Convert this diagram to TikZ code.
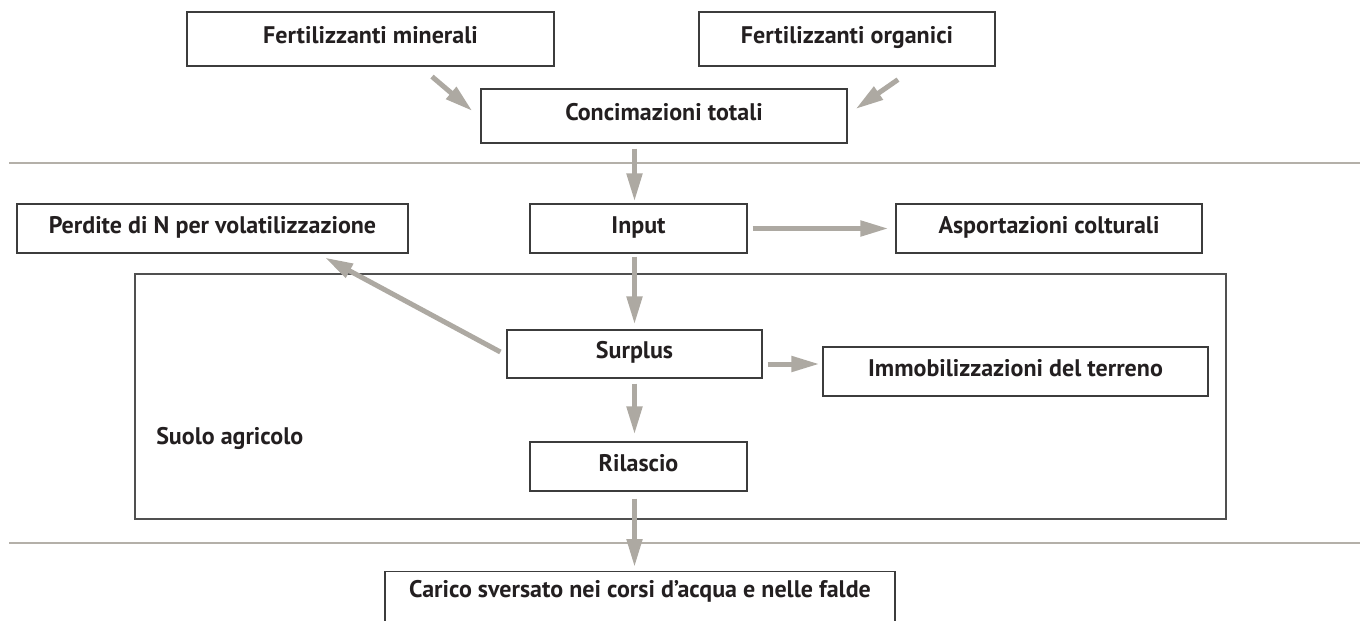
\documentclass[tikz,border=0pt]{standalone}
\usepackage{fontspec}
\setmainfont{PT Sans}
\usepackage{xcolor}
\usetikzlibrary{arrows.meta}

\definecolor{arrowgrey}{HTML}{ADA9A2}
\definecolor{linegrey}{HTML}{B4B0A9}
\definecolor{boxline}{HTML}{3C3C3C}
\definecolor{textblack}{HTML}{231F20}

\def\px{0.75pt}

\begin{document}
\begin{tikzpicture}[
    x=0.75pt, y=-0.75pt,
    block/.style={rectangle, draw=boxline, line width=0.9pt, minimum height=49*\px,
        inner sep=0pt, align=center, text=textblack,
        font=\bfseries\fontsize{18}{21}\selectfont, text height=0.7em, text depth=0pt},
    tallblock/.style={block, minimum height=54*\px},
    flux/.style={draw=arrowgrey, line width=3.75pt, -{Triangle[length=21pt, width=11.25pt]}},
    divider/.style={draw=linegrey, line width=1.9pt},
    soil/.style={rectangle, draw=boxline!90, line width=0.9pt, inner sep=0pt}
]
\clip (0,0) rectangle (1360,621);

% Soil container
\node[soil, minimum width=1091*\px, minimum height=245*\px] (suolo) at (680.5,396.5) {};
\node[anchor=west, inner sep=0pt, text=textblack, font=\bfseries\fontsize{18}{21}\selectfont] (suololab) at (156,438) {Suolo agricolo};

% Dividers
\draw[divider] (9,163) -- (1360,163);
\draw[divider] (9,543) -- (1360,543);

% Fertilizers
\node[tallblock, minimum width=367*\px] (fmin) at (370.5,39) {Fertilizzanti minerali};
\node[tallblock, minimum width=296*\px] (forg) at (847,39) {Fertilizzanti organici};
\node[tallblock, minimum width=366*\px] (conc) at (664,116) {Concimazioni totali};

% Balance
\node[block, minimum width=217*\px] (input) at (638.5,228.5) {Input};
\node[block, minimum width=306*\px] (asport) at (1049,228.5) {Asportazioni colturali};
\node[block, minimum width=391*\px] (perdite) at (212.5,228.5) {Perdite di N per volatilizzazione};
\node[block, minimum width=255*\px, minimum height=48*\px] (surplus) at (634.5,354) {Surplus};
\node[block, minimum width=385*\px] (immob) at (1015.5,371.5) {Immobilizzazioni del terreno};
\node[block, minimum width=217*\px] (rilascio) at (638.5,466.5) {Rilascio};
\node[block, minimum width=510*\px, minimum height=52*\px, anchor=north, text depth=7.5pt] (carico) at (640,571) {Carico sversato nei corsi d’acqua e nelle falde};

% Arrows
\draw[flux] ([shift={(61.5,10)}]fmin.south) -- ([shift={(-8,-5)}]conc.west);
\draw[flux] ([shift={(51,13)}]forg.south) -- ([shift={(8,-7)}]conc.east);
\draw[flux, shorten <=3.75pt, shorten >=1.5pt] (conc.south -| surplus) -- (input.north -| surplus);
\draw[flux, shorten <=2.25pt, shorten >=3.75pt] (input.south -| surplus) -- (surplus.north);
\draw[flux, shorten <=3.75pt, shorten >=5.25pt] (input.east) -- (asport.west);
\draw[flux] ([shift={(-6,-2)}]surplus.west) -- ([shift={(112.5,4)}]perdite.south);
\draw[flux] ([shift={(5,10)}]surplus.east) -- ([shift={(-3,-7.5)}]immob.west);
\draw[flux, shorten <=3.75pt, shorten >=5.25pt] (surplus.south) -- (rilascio.north -| surplus);
\draw[flux, shorten <=5.25pt, shorten >=3pt] (rilascio.south -| surplus) -- (carico.north -| surplus);

\end{tikzpicture}
\end{document}
